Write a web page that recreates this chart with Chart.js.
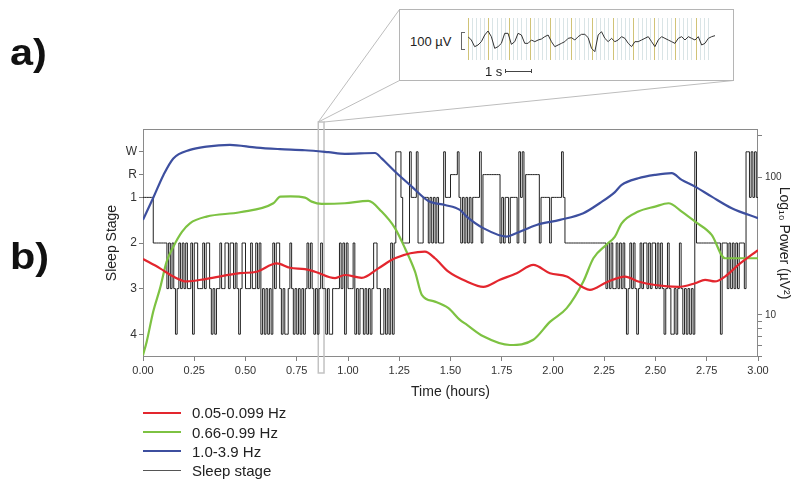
<!DOCTYPE html>
<html>
<head>
<meta charset="utf-8">
<title>Sleep stage and EEG band power</title>
<script src="https://cdn.jsdelivr.net/npm/chart.js@4.4.1/dist/chart.umd.min.js"></script>
<style>
  body { margin: 0; background: #fff; }
  #page { position: relative; width: 799px; height: 483px; overflow: hidden;
          font-family: 'Liberation Sans', Arial, sans-serif; color: #222; }
  #main { position: absolute; left: 0; top: 0; }
  .tag { position: absolute; left: 10px; font-size: 36px; line-height: 36px; font-weight: bold;
         color: #111; transform: scaleX(1.15); transform-origin: left top; }
  #inset { position: absolute; left: 399px; top: 9px; width: 335px; height: 72px;
           box-sizing: border-box; border: 1px solid #b5b5b5; background: #fff; }
  #eeg { position: absolute; left: 468px; top: 18px; }
  .inset-text { position: absolute; font-size: 13px; line-height: 15px; color: #222; white-space: nowrap; }
  #bracket { position: absolute; left: 461px; top: 32px; width: 3px; height: 16px;
             border: 1px solid #666; border-right: none; }
  #bar { position: absolute; left: 505px; top: 71px; width: 27px; height: 0; border-top: 1px solid #444; }
  #barEnds { position: absolute; left: 505px; top: 69px; width: 25px; height: 4px;
             border-left: 1px solid #444; border-right: 1px solid #444; }
  #legend { position: absolute; left: 143px; top: 403px; font-size: 15px; color: #222; }
  .leg-row { display: flex; align-items: center; height: 19.4px; }
  .leg-line { display: inline-block; width: 38px; height: 0; margin-right: 11px; }
</style>
</head>
<body>
<div id="page">
  <canvas id="main" width="799" height="483"></canvas>
  <div class="tag" style="top:35px">a)</div>
  <div class="tag" style="top:239px">b)</div>
  <div id="inset"></div>
  <canvas id="eeg" width="247" height="42"></canvas>
  <div class="inset-text" style="left:410px; top:34px">100 µV</div>
  <div id="bracket"></div>
  <div class="inset-text" style="left:485px; top:64px">1 s</div>
  <div id="bar"></div>
  <div id="barEnds"></div>
  <div id="legend"></div>
</div>
<script>
// ---------- data ----------
const seriesLabels = ['0.05-0.099 Hz', '0.66-0.99 Hz', '1.0-3.9 Hz', 'Sleep stage'];
const seriesColors = ['#e3262e', '#7dc242', '#3d4f9f', '#222222'];

// left axis: sleep stages (W and R sit at half steps above stage 1)
const stageNames = ['4', '3', '2', '1', 'R', 'W'];
const stageLevels = [0, 1, 2, 3, 3.5, 4];

const timeTicks = [0, 0.25, 0.5, 0.75, 1, 1.25, 1.5, 1.75, 2, 2.25, 2.5, 2.75, 3];
const powerTicks = [5, 6, 7, 8, 9, 10, 100, 200];
const powerLabels = [10, 100];

// hypnogram, one stage per 30 s epoch
const epochHours = 30 / 3600;
const hypStages = [
  '1','1','1','1','1','1','2','2','2','2',
  '2','2','2','2','3','2','3','2','3','4',
  '3','2','3','2','3','2','3','3','2','4',
  '2','2','3','3','3','2','3','2','2','3',
  '4','3','4','3','3','2','3','3','2','2',
  '3','2','2','3','2','3','4','3','2','2',
  '3','3','3','2','3','3','2','3','2','4',
  '3','4','3','4','3','4','2','3','2','2',
  '3','4','3','4','4','3','2','3','4','3',
  '4','3','4','3','4','3','2','3','2','3',
  '4','3','4','3','2','3','3','4','3','4',
  '4','3','3','3','3','2','3','2','4','2',
  '3','3','3','2','4','3','4','3','3','4',
  '3','4','3','4','3','2','2','3','3','4',
  '4','3','4','3','4','2','4','2','W','W',
  'W','1','2','2','2','2','W','1','1','1',
  'W','2','2','2','1','1','1','2','1','2',
  '1','2','1','2','2','2','W','1','1','1',
  'R','R','R','R','W','1','2','1','2','1',
  '2','1','2','1','1','1','1','W','2','R',
  'R','R','R','R','R','R','R','R','R','2',
  '1','2','1','1','2','1','1','1','1','2',
  'W','1','W','2','R','R','R','R','R','R',
  'R','R','2','1','1','1','1','1','2','1',
  '1','1','1','1','1','W','1','2','2','2',
  '2','2','2','2','2','2','2','2','2','2',
  '2','2','2','2','2','2','2','2','2','2',
  '2','3','2','3','2','3','3','2','3','2',
  '3','2','3','4','3','2','3','2','3','4',
  '3','2','3','2','2','3','2','3','2','2',
  '3','2','3','2','3','4','3','2','3','4',
  '4','3','4','3','2','3','4','3','4','3',
  '4','3','4','W','2','2','2','2','2','2',
  '2','2','2','2','2','2','2','2','4','2',
  '2','2','3','2','3','2','3','2','3','2',
  '2','2','3','W','W','1','W','1','W','1'
];

// band power (µV²), time in hours
const redTime = [0, 0.083, 0.148, 0.213, 0.31, 0.473, 0.554, 0.652, 0.717, 0.79, 0.839, 0.937, 0.985,
  1.067, 1.148, 1.229, 1.375, 1.424, 1.49, 1.579, 1.66, 1.741, 1.823, 1.904, 1.985, 2.067, 2.148,
  2.18, 2.262, 2.352, 2.416, 2.498, 2.612, 2.693, 2.742, 2.79, 2.839, 2.904, 3.0];
const redPower = [25.5, 21.8, 19.0, 17.5, 18.3, 20.1, 20.6, 23.7, 22.0, 21.5, 20.6, 18.5, 19.5,
  18.6, 21.8, 25.8, 28.8, 25.8, 20.6, 17.5, 16.0, 18.0, 20.1, 23.1, 20.1, 19.0, 15.8,
  15.2, 17.3, 19.0, 17.5, 16.5, 16.0, 17.0, 18.0, 17.5, 19.0, 23.1, 29.6];

const greenTime = [0, 0.018, 0.05, 0.083, 0.115, 0.148, 0.19, 0.229, 0.31, 0.473, 0.636, 0.67, 0.72,
  0.79, 0.823, 0.872, 0.985, 1.099, 1.164, 1.229, 1.278, 1.327, 1.36, 1.424, 1.49, 1.546, 1.579,
  1.66, 1.79, 1.904, 1.985, 2.067, 2.148, 2.197, 2.262, 2.302, 2.335, 2.416, 2.498, 2.563, 2.628,
  2.693, 2.774, 2.839, 2.872, 3.0];
const greenPower = [5.1, 6.4, 10.6, 15.6, 24.3, 31.3, 40.1, 46.3, 51.8, 55.7, 64.7, 72.3, 72.5,
  71.1, 66.5, 64.0, 64.7, 67.3, 56.3, 42.7, 30.5, 20.6, 14.0, 12.5, 11.2, 9.2, 8.5,
  7.0, 6.05, 6.6, 8.9, 11.2, 17.5, 25.8, 32.5, 37.1, 46.3, 56.3, 61.2, 64.7, 56.3,
  47.6, 38.1, 25.8, 25.8, 25.8];

const blueTime = [0, 0.05, 0.1, 0.148, 0.229, 0.31, 0.424, 0.554, 0.668, 0.79, 0.904, 0.985, 1.132,
  1.164, 1.229, 1.311, 1.392, 1.473, 1.546, 1.579, 1.66, 1.774, 1.82, 1.92, 2.034, 2.148, 2.229,
  2.302, 2.335, 2.416, 2.498, 2.579, 2.628, 2.693, 2.774, 2.872, 3.0];
const bluePower = [49, 71, 104, 137, 158, 167, 172, 164, 160, 157, 152, 148, 150,
  137, 110, 85.5, 67.3, 62.9, 57.9, 51.8, 42.7, 37.1, 39.2, 45, 49, 54.8, 65,
  78, 87.9, 98.3, 104, 107, 95.6, 85.5, 72.3, 59.6, 50.4];

// window shown in panel a (hours)
const zoomWindow = [0.855, 0.883];

// panel a: raw EEG, µV
const eegSampleSec = 0.161;
const eegUV = [
  20, 0, -40, -30, -10, 30, 54, 20, -50, -40,
  -20, 40, 40, -26, -10, 40, 30, -20, -20, 0,
  -10, 0, 6, 20, 30, -10, -40, -30, -20, -10,
  10, 14, 0, 20, 34, 34, 14, -50, -70, 30,
  50, 10, -10, 10, -10, 0, 20, 10, -20, -40,
  -10, -10, 0, 10, 20, -10, -40, 0, 20, 10,
  0, -10, -20, 10, 20, 0, 20, 10, 0, 20,
  -30, -20, 10, 20, 26
];

// ---------- chart ----------
Chart.defaults.font.family = "'Liberation Sans', Arial, sans-serif";
Chart.defaults.color = '#333';

function stageLevel(s) {
  return stageLevels[stageNames.indexOf(s)];
}

function pairs(xs, ys) {
  return xs.map((x, i) => ({ x: x, y: ys[i] }));
}

const hypPoints = hypStages.map((s, i) => ({ x: i * epochHours, y: stageLevel(s) }));
hypPoints.push({ x: hypStages.length * epochHours, y: stageLevel(hypStages[hypStages.length - 1]) });

function powerLine(i, xs, ys) {
  return {
    label: seriesLabels[i],
    data: pairs(xs, ys),
    yAxisID: 'y2',
    borderColor: seriesColors[i],
    borderWidth: 2.2,
    cubicInterpolationMode: 'monotone',
    pointRadius: 0,
    order: 0
  };
}

const decor = {
  id: 'decor',
  beforeDatasetsDraw(chart) {
    const { ctx, chartArea: a, scales: { x } } = chart;
    ctx.save();
    ctx.strokeStyle = '#8a8a8a';
    ctx.lineWidth = 1;
    ctx.strokeRect(a.left + 0.5, a.top + 0.5, a.width - 1, a.height - 1);
    const x0 = x.getPixelForValue(zoomWindow[0]);
    const x1 = x.getPixelForValue(zoomWindow[1]);
    ctx.strokeStyle = '#c2c2c2';
    ctx.lineWidth = 1.5;
    ctx.strokeRect(x0, a.top - 7, x1 - x0, a.height + 23);
    ctx.restore();
  },
  afterDraw(chart) {
    const { ctx, chartArea: a, scales: { x } } = chart;
    const box = document.getElementById('inset');
    const bl = box.offsetLeft + 0.5, bt = box.offsetTop + 0.5;
    const br = box.offsetLeft + box.offsetWidth - 0.5, bb = box.offsetTop + box.offsetHeight - 0.5;
    const x0 = x.getPixelForValue(zoomWindow[0]);
    const x1 = x.getPixelForValue(zoomWindow[1]);
    const y0 = a.top - 7;
    ctx.save();
    ctx.strokeStyle = '#bdbdbd';
    ctx.lineWidth = 1;
    ctx.beginPath();
    ctx.moveTo(x0, y0); ctx.lineTo(bl, bt);
    ctx.moveTo(x0, y0); ctx.lineTo(bl, bb);
    ctx.moveTo(x1, y0); ctx.lineTo(br, bb);
    ctx.stroke();
    ctx.restore();
  }
};

const tickGrid = { display: true, drawOnChartArea: false, drawTicks: true, tickLength: 4, color: '#808080' };

const mainChart = new Chart(document.getElementById('main'), {
  type: 'line',
  data: {
    datasets: [
      powerLine(0, redTime, redPower),
      powerLine(1, greenTime, greenPower),
      powerLine(2, blueTime, bluePower),
      {
        label: seriesLabels[3],
        data: hypPoints,
        yAxisID: 'y',
        borderColor: seriesColors[3],
        borderWidth: 1,
        stepped: true,
        pointRadius: 0,
        order: 1
      }
    ]
  },
  options: {
    responsive: false,
    animation: false,
    layout: { padding: { left: 100, right: 3, top: 129, bottom: 78 } },
    plugins: { legend: { display: false }, tooltip: { enabled: false } },
    scales: {
      x: {
        type: 'linear', min: 0, max: 3,
        afterBuildTicks: s => { s.ticks = timeTicks.map(v => ({ value: v })); },
        afterFit: s => { s.height = 48; },
        ticks: { autoSkip: false, maxRotation: 0, padding: 3, font: { size: 11 },
                 callback: v => v.toFixed(2) },
        grid: tickGrid,
        border: { display: false },
        title: { display: true, text: 'Time (hours)', font: { size: 14 }, color: '#222' }
      },
      y: {
        type: 'linear', position: 'left', min: -0.5, max: 4.5,
        afterBuildTicks: s => { s.ticks = stageLevels.map(v => ({ value: v })); },
        afterFit: s => { s.width = 43; },
        ticks: { autoSkip: false, padding: 2, font: { size: 12 },
                 callback: v => stageNames[stageLevels.indexOf(v)] },
        grid: tickGrid,
        border: { display: false },
        title: { display: true, text: 'Sleep Stage', font: { size: 14 }, color: '#222' }
      },
      y2: {
        type: 'logarithmic', position: 'right', min: 4.95, max: 224,
        afterBuildTicks: s => { s.ticks = powerTicks.map(v => ({ value: v })); },
        afterFit: s => { s.width = 38; },
        ticks: { autoSkip: false, padding: 3, font: { size: 10 },
                 callback: v => powerLabels.includes(v) ? String(v) : '' },
        grid: tickGrid,
        border: { display: false },
        title: { display: true, text: 'Log\u2081\u2080 Power (µV\u00b2)', font: { size: 14 }, color: '#222' }
      }
    }
  },
  plugins: [decor]
});

// legend, built from the datasets
const legendEl = document.getElementById('legend');
mainChart.data.datasets.forEach(ds => {
  const row = document.createElement('div');
  row.className = 'leg-row';
  const line = document.createElement('span');
  line.className = 'leg-line';
  line.style.borderTop = (ds.borderWidth > 1 ? 2 : 1) + 'px solid ' + (ds.borderWidth > 1 ? ds.borderColor : '#555');
  const txt = document.createElement('span');
  txt.textContent = ds.label;
  row.appendChild(line);
  row.appendChild(txt);
  legendEl.appendChild(row);
});

// panel a: EEG snippet
new Chart(document.getElementById('eeg'), {
  type: 'line',
  data: {
    datasets: [{
      data: eegUV.map((v, i) => ({ x: i * eegSampleSec, y: v })),
      borderColor: '#333',
      borderWidth: 1,
      pointRadius: 0,
      tension: 0
    }]
  },
  options: {
    responsive: false,
    animation: false,
    layout: { padding: 0 },
    plugins: { legend: { display: false }, tooltip: { enabled: false } },
    scales: {
      x: {
        type: 'linear', min: 0, max: (eegUV.length - 1) * eegSampleSec,
        ticks: { display: false, stepSize: 0.2 },
        grid: {
          drawTicks: false,
          lineWidth: 1,
          color: c => Math.abs(c.tick.value - Math.round(c.tick.value)) < 1e-6
            ? 'rgba(200,185,95,0.85)' : 'rgba(170,195,200,0.45)'
        },
        border: { display: false }
      },
      y: { display: false, min: -120, max: 132 }
    }
  }
});
</script>
</body>
</html>
